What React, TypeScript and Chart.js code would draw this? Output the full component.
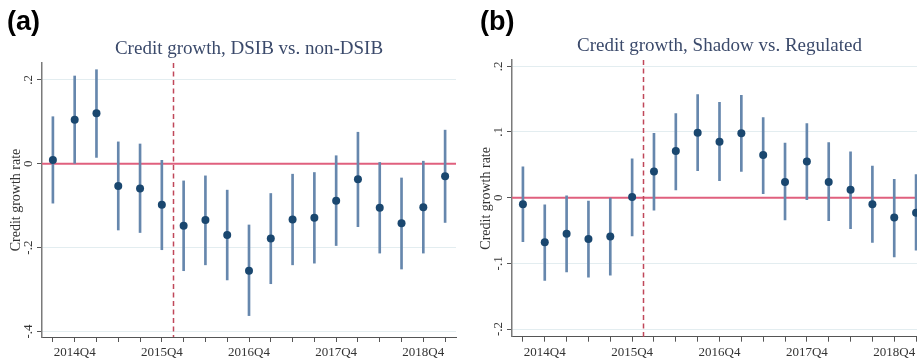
import React, { useEffect, useRef } from 'react';
import { Chart, registerables } from 'chart.js';

Chart.register(...registerables);

const quarters = [
  '2014Q3', '2014Q4', '2015Q1', '2015Q2', '2015Q3', '2015Q4', '2016Q1', '2016Q2', '2016Q3', '2016Q4',
  '2017Q1', '2017Q2', '2017Q3', '2017Q4', '2018Q1', '2018Q2', '2018Q3', '2018Q4', '2019Q1',
];

const dsibEstimate = [0.009, 0.105, 0.12, -0.053, -0.059, -0.098, -0.148, -0.134, -0.17, -0.255, -0.178, -0.133, -0.129, -0.088, -0.037, -0.105, -0.142, -0.104, -0.03];
const dsibLower = [-0.094, 0.001, 0.015, -0.158, -0.164, -0.205, -0.255, -0.241, -0.277, -0.362, -0.286, -0.241, -0.237, -0.195, -0.15, -0.213, -0.251, -0.213, -0.14];
const dsibUpper = [0.112, 0.209, 0.224, 0.052, 0.047, 0.008, -0.041, -0.029, -0.063, -0.146, -0.071, -0.025, -0.021, 0.019, 0.075, 0.003, -0.034, 0.006, 0.08];

const shadowEstimate = [-0.01, -0.068, -0.055, -0.063, -0.059, 0.001, 0.04, 0.071, 0.099, 0.085, 0.098, 0.065, 0.024, 0.055, 0.024, 0.012, -0.01, -0.03, -0.023];
const shadowLower = [-0.067, -0.126, -0.113, -0.121, -0.118, -0.058, -0.019, 0.012, 0.041, 0.026, 0.04, 0.006, -0.034, -0.003, -0.035, -0.047, -0.068, -0.09, -0.08];
const shadowUpper = [0.047, -0.011, 0.003, -0.005, 0.0, 0.059, 0.098, 0.128, 0.157, 0.145, 0.156, 0.122, 0.083, 0.113, 0.084, 0.07, 0.048, 0.028, 0.035];

const dsibTicks = [-0.4, -0.2, 0, 0.2];
const dsibTickLabels = ['-.4', '-.2', '0', '.2'];
const shadowTicks = [-0.2, -0.1, 0, 0.1, 0.2];
const shadowTickLabels = ['-.2', '-.1', '0', '.1', '.2'];

const yAxisTitle = 'Credit growth rate';
const policyBreak = 5.5; // between 2015Q4 and 2016Q1

const SERIF = '"Liberation Serif", "DejaVu Serif", serif';

const refLinesPlugin = {
  id: 'refLines',
  beforeDatasetsDraw(chart: any, _args: any, opts: any) {
    const { ctx, chartArea, scales } = chart;
    const x = scales.x;
    const y = scales.y;
    ctx.save();
    const y0 = y.getPixelForValue(0);
    ctx.strokeStyle = '#e0607e';
    ctx.lineWidth = 2;
    ctx.beginPath();
    ctx.moveTo(chartArea.left, y0);
    ctx.lineTo(chartArea.right, y0);
    ctx.stroke();
    const xb = Math.round(x.getPixelForValue(opts.breakAt)) + 0.5;
    ctx.strokeStyle = '#c0475a';
    ctx.lineWidth = 1.5;
    ctx.setLineDash([5, 3.5]);
    ctx.beginPath();
    ctx.moveTo(xb, chartArea.top);
    ctx.lineTo(xb, chartArea.bottom);
    ctx.stroke();
    ctx.restore();
  },
};

const yLabelsPlugin = {
  id: 'yLabels',
  afterDraw(chart: any, _args: any, opts: any) {
    const { ctx, chartArea, scales } = chart;
    const y = scales.y;
    ctx.save();
    ctx.fillStyle = '#333';
    ctx.font = `13px ${SERIF}`;
    ctx.textAlign = 'center';
    ctx.textBaseline = 'alphabetic';
    opts.ticks.forEach((v: number, i: number) => {
      const py = y.getPixelForValue(v);
      ctx.save();
      ctx.translate(chartArea.left - 10, py);
      ctx.rotate(-Math.PI / 2);
      ctx.fillText(opts.labels[i], 0, 0);
      ctx.restore();
    });
    ctx.font = `14px ${SERIF}`;
    ctx.textBaseline = 'middle';
    ctx.translate(chartArea.left - 26, (chartArea.top + chartArea.bottom) / 2);
    ctx.rotate(-Math.PI / 2);
    ctx.fillText(opts.title, 0, 0);
    ctx.restore();
  },
};

type PanelProps = {
  title: string;
  estimate: number[];
  lower: number[];
  upper: number[];
  yMin: number;
  yMax: number;
  yTicks: number[];
  yLabels: string[];
  left: number;
  width: number;
  padRight: number;
  titleTop: number;
  padBottom: number;
};

function Panel(p: PanelProps) {
  const ref = useRef<HTMLCanvasElement>(null);
  useEffect(() => {
    const chart = new Chart(ref.current as HTMLCanvasElement, {
      type: 'bar',
      data: {
        labels: quarters,
        datasets: [
          {
            type: 'line',
            data: p.estimate,
            showLine: false,
            pointRadius: 4,
            pointHoverRadius: 4,
            pointBorderWidth: 0,
            pointBackgroundColor: '#1a476f',
            borderColor: '#1a476f',
            backgroundColor: '#1a476f',
            order: 0,
          } as any,
          {
            type: 'bar',
            data: p.lower.map((l, i) => [l, p.upper[i]]),
            barThickness: 2,
            backgroundColor: '#6687ad',
            borderWidth: 0,
            order: 1,
          } as any,
        ],
      },
      options: {
        animation: false,
        responsive: false,
        maintainAspectRatio: false,
        events: [],
        layout: { padding: { left: 0, right: p.padRight, top: 0, bottom: p.padBottom } },
        plugins: {
          legend: { display: false },
          tooltip: { enabled: false },
          title: {
            display: true,
            text: p.title,
            fullSize: false,
            color: '#3b4a6b',
            font: { family: SERIF, size: 19, weight: 'normal', lineHeight: 1.2 },
            padding: { top: p.titleTop, bottom: 2.6 },
          },
          refLines: { breakAt: policyBreak },
          yLabels: { ticks: p.yTicks, labels: p.yLabels, title: yAxisTitle },
        } as any,
        scales: {
          x: {
            offset: true,
            grid: { display: true, drawOnChartArea: false, offset: false, tickLength: 5, tickColor: '#555', tickWidth: 1 },
            border: { display: true, color: '#555', width: 1 },
            ticks: {
              autoSkip: false,
              maxRotation: 0,
              minRotation: 0,
              padding: 3,
              color: '#333',
              font: { family: SERIF, size: 13 },
              callback: (_v: any, i: number) => (quarters[i].endsWith('Q4') ? quarters[i] : ''),
            },
            afterFit: (s: any) => {
              s.height = 30;
            },
          },
          y: {
            min: p.yMin,
            max: p.yMax,
            afterBuildTicks: (s: any) => {
              s.ticks = p.yTicks.map((v) => ({ value: v }));
            },
            grid: { color: '#e3edf0', tickColor: '#555', tickLength: 5, lineWidth: 1 },
            border: { display: true, color: '#7a7a7a', width: 1.5 },
            ticks: { display: false },
            afterFit: (s: any) => {
              s.width = 42;
            },
          },
        } as any,
      },
      plugins: [refLinesPlugin, yLabelsPlugin],
    });
    return () => chart.destroy();
  }, []);
  return (
    <canvas
      ref={ref}
      width={p.width}
      height={375}
      style={{ position: 'absolute', left: p.left, top: 0, width: p.width, height: 375 }}
    />
  );
}

const letterStyle: React.CSSProperties = {
  position: 'absolute',
  top: 6,
  fontFamily: '"Liberation Sans", Arial, sans-serif',
  fontWeight: 'bold',
  fontSize: 27,
  lineHeight: '30px',
  color: '#000',
};

export default function App() {
  return (
    <div
      style={{
        position: 'fixed',
        left: 0,
        top: 0,
        width: 917,
        height: 359,
        overflow: 'hidden',
        background: '#fff',
      }}
    >
      <Panel
        title="Credit growth, DSIB vs. non-DSIB"
        estimate={dsibEstimate}
        lower={dsibLower}
        upper={dsibUpper}
        yMin={-0.413}
        yMax={0.24}
        yTicks={dsibTicks}
        yLabels={dsibTickLabels}
        left={0}
        width={460}
        padRight={2.5}
        titleTop={37.6}
        padBottom={8}
      />
      <Panel
        title="Credit growth, Shadow vs. Regulated"
        estimate={shadowEstimate}
        lower={shadowLower}
        upper={shadowUpper}
        yMin={-0.2116}
        yMax={0.2096}
        yTicks={shadowTicks}
        yLabels={shadowTickLabels}
        left={470}
        width={461}
        padRight={2}
        titleTop={34.6}
        padBottom={8.3}
      />
      <div style={{ ...letterStyle, left: 7 }}>(a)</div>
      <div style={{ ...letterStyle, left: 480 }}>(b)</div>
    </div>
  );
}
